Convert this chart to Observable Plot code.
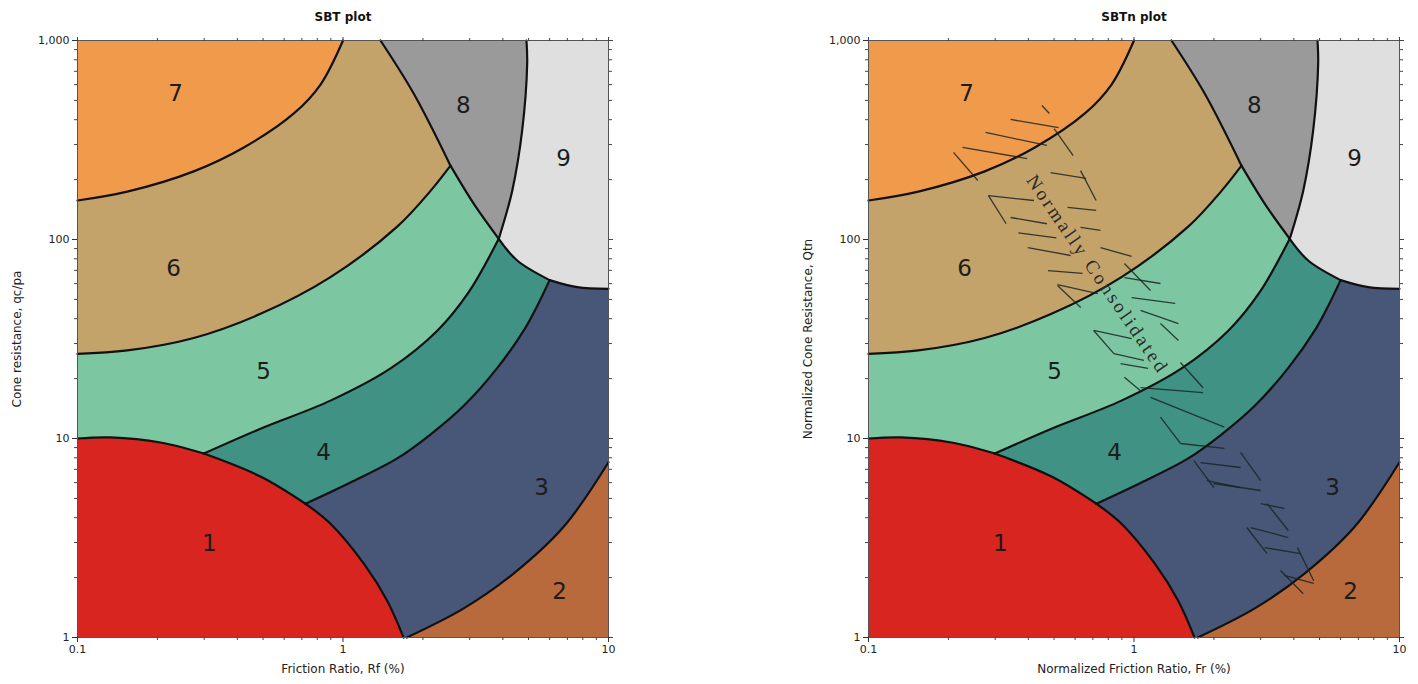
<!DOCTYPE html>
<html><head><meta charset="utf-8">
<script src="https://cdn.jsdelivr.net/npm/d3@7"></script>
<script src="https://cdn.jsdelivr.net/npm/@observablehq/plot@0.6"></script>
<style>
body{margin:0;background:#fff;}
#wrap{position:relative;width:1418px;height:684px;overflow:hidden;}
#left,#right{position:absolute;top:0;}
#left{left:0}
#right{left:709px}
</style></head><body><div id="wrap"><div id="left"></div><div id="right"></div></div>
<script>
// ---------- zone boundary curves (Rf or Fr %, qc/pa or Qtn) ----------
const e1a = [[0.1,10],[0.133,10.12],[0.2055,9.55],[0.299,8.40]];
const e1b = [[0.299,8.40],[0.489,6.44],[0.722,4.70]];
const e1c = [[0.722,4.70],[0.897,3.73],[1.198,2.35],[1.467,1.53],[1.69,1]];
const e2  = [[1.74,1],[2.85,1.40],[4.40,2.10],[6.79,3.61],[10,7.6]];
const e34 = [[0.722,4.70],[1.067,6.01],[1.60,7.94],[2.14,10.5],[2.85,14.6],[3.82,22.7],[4.87,36.1],[5.40,46.6],[6.0,62.5]];
const e45 = [[0.299,8.40],[0.489,11.2],[0.897,15.5],[1.51,22.5],[2.27,34.9],[2.97,54.2],[3.86,100.8]];
const e56 = [[0.1,26.6],[0.154,27.7],[0.274,32.0],[0.489,42.3],[0.897,64.7],[1.60,116],[2.14,176],[2.54,235]];
const e67 = [[0.1,157],[0.154,174],[0.274,220],[0.423,290],[0.653,430],[0.823,601],[1.0,1000]];
const e68a = [[1.384,1000],[1.848,540],[2.54,235]];
const e68b = [[2.54,235],[3.11,151],[3.86,100.8]];
const e89 = [[3.86,100.8],[4.34,176],[4.73,353],[4.94,764],[4.91,1000]];
const e9a = [[3.86,100.8],[4.53,78.4],[6.0,62.5]];
const e9b = [[6.0,62.5],[7.62,57.6],[10,56.5]];

// ---------- zone labels ----------
const zoneNames  = ["1","2","3","4","5","6","7","8","9"];
const zoneLabelX = [0.314, 6.54, 5.59, 0.845, 0.502, 0.230, 0.234, 2.84, 6.77];
const zoneLabelY = [2.97, 1.70, 5.67, 8.51, 21.7, 71.5, 542, 471, 255];
const zoneColors = ["#d9251f","#b86a3d","#485678","#3f9284","#7cc7a2","#c4a36b","#f09b4c","#9a9a9a","#dfdfdf"];

// ---------- axes ----------
const xTickValues = [0.1, 1, 10];
const xTickLabels = ["0.1", "1", "10"];
const xMinor = [0.2,0.3,0.4,0.5,0.6,0.7,0.8,0.9,2,3,4,5,6,7,8,9];
const yTickValues = [1, 10, 100, 1000];
const yTickLabels = ["1", "10", "100", "1,000"];
const yMinor = [2,3,4,5,6,7,8,9,20,30,40,50,60,70,80,90,200,300,400,500,600,700,800,900];

const titles  = ["SBT plot", "SBTn plot"];
const xLabels = ["Friction Ratio, Rf (%)", "Normalized Friction Ratio, Fr (%)"];
const yLabels = ["Cone resistance, qc/pa", "Normalized Cone Resistance, Qtn"];

// ---------- "Normally Consolidated" hatched band (SBTn plot) ----------
const ncText = "Normally Consolidated";
const ncTextX = 0.729, ncTextY = 66.7;
const ncX1 = [0.45,0.343,0.50,0.276,0.226,0.209,0.485,0.629,0.283,0.283,0.343,0.367,0.398,0.474,0.515,0.515,0.562,0.629,0.748,0.92,0.92,0.98,1.058,1.258,0.705,0.705,0.84,0.89,0.92,1.058,1.154,1.496,1.258,1.496,1.68,1.78,1.88,1.99,2.52,3.0,3.17,2.66,2.75,3.10,4.13,3.56,3.68];
const ncY1 = [471,401,361,345,290,274,217,222,166,166,129,108,91.1,69.8,59.4,58.7,145,115,91.1,75.7,64.4,51.1,44.0,37.8,34.9,34.9,26.7,23.8,20.3,18.0,16.1,24.1,12.8,9.44,7.75,7.57,6.15,5.94,8.51,4.71,4.71,3.57,3.57,2.83,2.83,2.17,2.05];
const ncX2 = [0.48,0.52,0.59,0.47,0.396,0.258,0.66,0.72,0.42,0.33,0.47,0.51,0.577,0.64,0.73,0.63,0.72,0.748,0.98,1.154,1.258,1.43,1.47,1.47,0.98,0.84,1.09,1.13,1.058,1.82,2.19,1.82,1.496,2.19,2.0,2.52,2.52,3.0,3.0,3.68,3.81,3.17,3.81,4.24,4.75,4.34,4.75];
const ncY2 = [430,365,264,297,255,198,203,157,157,120,120,102,83.1,67.5,53.5,45.5,140,111,82.2,55.4,60.1,47.7,37.8,31.1,31.8,26.7,24.7,22.5,17.4,17.0,11.4,18.0,9.44,8.91,5.67,7.15,5.67,5.48,6.15,4.45,3.45,2.64,3.18,2.64,1.93,1.66,1.87];

// ---------- build zone polygons from the boundary pieces ----------
const rev = a => a.slice().reverse();
const seg = (a, b) => [a, b];
const zonePieces = [
  [e1a, e1b, e1c, seg([1.69,1],[0.1,1]), seg([0.1,1],[0.1,10])],                                  // 1
  [e2, seg([10,7.6],[10,1]), seg([10,1],[1.74,1])],                                                  // 2
  [e34, e9b, seg([10,56.5],[10,7.6]), rev(e2), seg([1.74,1],[1.69,1]), rev(e1c)],                  // 3
  [e45, e9a, rev(e34), rev(e1b)],                                                                    // 4
  [e56, e68b, rev(e45), rev(e1a), seg([0.1,10],[0.1,26.6])],                                        // 5
  [e67, seg([1,1000],[1.384,1000]), e68a, rev(e56), seg([0.1,26.6],[0.1,157])],                     // 6
  [seg([0.1,157],[0.1,1000]), seg([0.1,1000],[1,1000]), rev(e67)],                                  // 7
  [seg([1.384,1000],[4.91,1000]), rev(e89), rev(e68b), rev(e68a)],                                  // 8
  [e89, seg([4.91,1000],[10,1000]), seg([10,1000],[10,56.5]), rev(e9b), rev(e9a)]                   // 9
];
const boundaryPieces = {e1a, e1b, e1c, e2, e34, e45, e56, e67, e68a, e68b, e89, e9a, e9b};
const boundaryRows = Object.entries(boundaryPieces).flatMap(([id, pts]) => pts.map(([x, y]) => ({id, x, y})));
const zoneRows = zoneNames.map((n, i) => ({n, x: zoneLabelX[i], y: zoneLabelY[i]}));
const ncRows = ncX1.map((_, i) => ({x1: ncX1[i], y1: ncY1[i], x2: ncX2[i], y2: ncY2[i]}));

function chart(k, marginLeft, marginRight, extra) {
  const fills = zonePieces.map((pieces, i) =>
    Plot.line(pieces.flat().map(([x, y]) => ({x, y})), {x: "x", y: "y", fill: zoneColors[i], stroke: "none", curve: "catmull-rom"}));
  const blank = () => "";
  return Plot.plot({
    width: 709, height: 684,
    marginTop: 40, marginBottom: 47, marginLeft, marginRight,
    x: {type: "log", domain: [0.1, 10]},
    y: {type: "log", domain: [1, 1000]},
    style: {fontFamily: "'DejaVu Sans', Verdana, sans-serif", fontSize: "11px", color: "#222", background: "white"},
    marks: [
      ...fills,
      Plot.line(boundaryRows, {x: "x", y: "y", z: "id", stroke: "#111", strokeWidth: 2.2, curve: "catmull-rom"}),
      ...extra,
      Plot.text(zoneRows, {x: "x", y: "y", text: "n", fontSize: 23, fill: "#1c1c1c"}),
      Plot.frame({stroke: "#555"}),
      Plot.axisX({ticks: xTickValues, tickFormat: d => xTickLabels[xTickValues.indexOf(d)], tickSize: 5, tickPadding: 3, label: null, stroke: "#333"}),
      Plot.axisX({ticks: xMinor, tickFormat: blank, tickSize: 3, label: null, stroke: "#444"}),
      Plot.axisX({anchor: "top", ticks: xTickValues, tickFormat: blank, tickSize: 4, label: null, stroke: "#444"}),
      Plot.axisX({anchor: "top", ticks: xMinor, tickFormat: blank, tickSize: 3, label: null, stroke: "#444"}),
      Plot.axisY({ticks: yTickValues, tickFormat: d => yTickLabels[yTickValues.indexOf(d)], tickSize: 5, tickPadding: 3, label: null, stroke: "#333"}),
      Plot.axisY({ticks: yMinor, tickFormat: blank, tickSize: 3, label: null, stroke: "#444"}),
      Plot.axisY({anchor: "right", ticks: yTickValues, tickFormat: blank, tickSize: 4, label: null, stroke: "#444"}),
      Plot.axisY({anchor: "right", ticks: yMinor, tickFormat: blank, tickSize: 3, label: null, stroke: "#444"}),
      Plot.text([titles[k]], {text: d => d, frameAnchor: "top", dy: -23, lineAnchor: "middle", fontWeight: "bold", fontSize: 12, fill: "#111"}),
      Plot.text([xLabels[k]], {text: d => d, frameAnchor: "bottom", dy: 32, lineAnchor: "middle", fontSize: 12, fill: "#222"}),
      Plot.text([yLabels[k]], {text: d => d, frameAnchor: "left", dx: -60, rotate: -90, textAnchor: "middle", lineAnchor: "middle", fontSize: 12, fill: "#222"})
    ]
  });
}

document.getElementById("left").append(chart(0, 77, 101, []));

const right = chart(1, 159, 19, [
  Plot.link(ncRows, {x1: "x1", y1: "y1", x2: "x2", y2: "y2", stroke: "#1a2424", strokeWidth: 1.3, strokeOpacity: 0.85}),
  Plot.text([ncText], {text: d => d, x: [ncTextX], y: [ncTextY], rotate: 55.6, fontFamily: "'Liberation Serif', 'DejaVu Serif', serif", fontSize: 19, fill: "#2a2a2a"})
]);
document.getElementById("right").append(right);
d3.select(right).selectAll("text").filter(function () { return this.textContent === ncText; }).style("letter-spacing", "2.8px");
</script>
</body></html>
